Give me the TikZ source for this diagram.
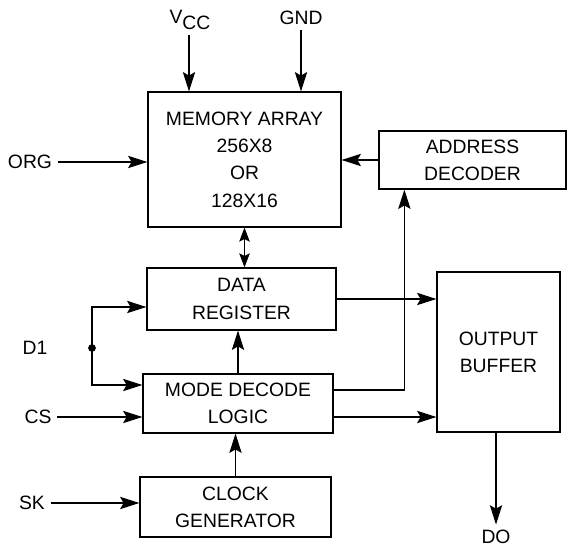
\documentclass[tikz,border=0pt]{standalone}
\usepackage{fontspec}
\setmainfont{Liberation Sans}
\usetikzlibrary{arrows.meta, positioning, calc}

\begin{document}
\begin{tikzpicture}[
    every node/.style={font=\fontsize{11}{15.5}\selectfont},
    blk/.style={draw, line width=0.7pt, align=center, inner sep=2pt},
    a/.style={-{Stealth[length=11pt, width=7pt, inset=2pt]}, line width=0.6pt},
    aa/.style={{Stealth[length=8pt, width=6pt, inset=1.5pt]}-{Stealth[length=8pt, width=6pt, inset=1.5pt]}, line width=0.6pt},
    pin/.style={inner sep=3pt}
]
\useasboundingbox (0,0) rectangle (11.34,-10.92);
% blocks
\node[blk, minimum width=3.86cm, minimum height=2.7cm]  (mem)  at (4.89,-3.19)  {MEMORY ARRAY\\256X8\\OR\\128X16};
\node[blk, minimum width=3.74cm, minimum height=1.16cm] (addr) at (9.45,-3.2)   {ADDRESS\\DECODER};
\node[blk, minimum width=3.78cm, minimum height=1.24cm] (data) at (4.83,-5.98)  {DATA\\REGISTER};
\node[blk, minimum width=3.8cm,  minimum height=1.18cm] (mode) at (4.76,-8.07)  {MODE DECODE\\LOGIC};
\node[blk, minimum width=3.82cm, minimum height=1.2cm]  (clk)  at (4.71,-10.14) {CLOCK\\GENERATOR};
\node[blk, minimum width=2.46cm, minimum height=3.2cm]  (buf)  at (9.97,-7.04)  {OUTPUT\\BUFFER};
% pins
\node[pin] (vcc) at (3.8,-0.4)    {V\raisebox{-0.6ex}{CC}};
\node[pin] (gnd) at (6.02,-0.36)  {GND};
\node[pin] (org) at (0.6,-3.24)   {ORG};
\node[pin] (di)  at (0.7,-6.96)   {D1};
\node[pin] (cs)  at (0.76,-8.34)  {CS};
\node[pin] (sk)  at (0.64,-10.06) {SK};
\node[pin] (do)  at (9.92,-10.74) {DO};
\fill (1.84,-6.96) circle (2.2pt) coordinate (dot);
% connectors
\draw[a] (vcc.south -| 3.78,0) -- (3.78,0 |- mem.north);
\draw[a] (gnd.south) -- (gnd.south |- mem.north);
\draw[a] (org.east) -- (org.east -| mem.west);
\draw[a] (addr.west) -- (addr.west -| mem.east);
\draw[aa] (mem.south) -- (mem.south |- data.north);
\draw[a] (dot) |- ([yshift=-0.16cm]data.west);
\draw[a] (dot) |- ([yshift=0.37cm]mode.west);
\draw[a] (cs.east) -- (cs.east -| mode.west);
\draw[a] (sk.east) -- (sk.east -| clk.west);
\draw[a] (mode.north) -- (mode.north |- data.south);
\draw[a] (clk.north) -- (clk.north |- mode.south);
\draw[a] (data.east) -- (data.east -| buf.west);
\draw[a] ([yshift=0.27cm]mode.east) -| ([xshift=0.52cm]addr.south west);
\draw[a] ([yshift=-0.27cm]mode.east) -- ([yshift=-0.27cm]mode.east -| buf.west);
\draw[a] ([xshift=-0.05cm]buf.south) -- ([xshift=-0.05cm]buf.south |- do.north);
\end{tikzpicture}
\end{document}
